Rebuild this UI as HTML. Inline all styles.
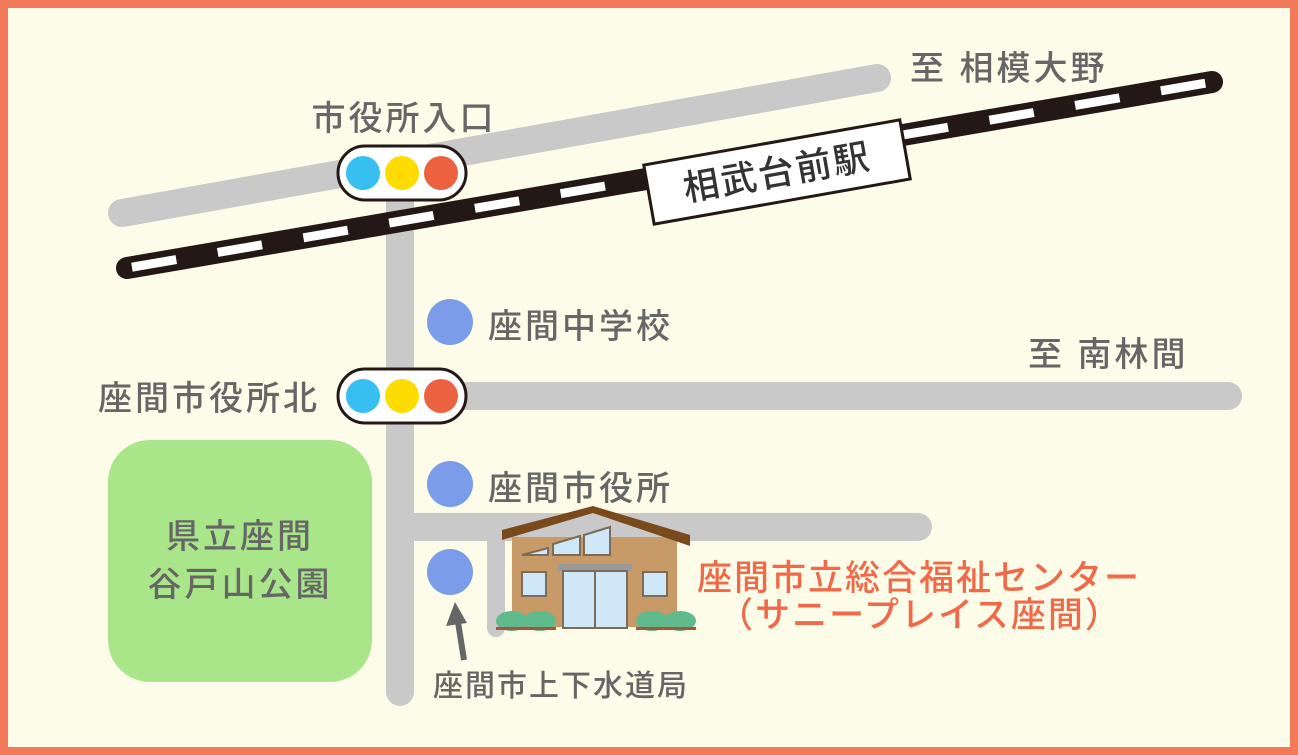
<!DOCTYPE html>
<html><head><meta charset="utf-8"><style>
html,body{margin:0;padding:0;background:#fdfce9;}
svg{display:block}
text{font-family:"Liberation Sans","Noto Sans CJK JP",sans-serif;font-weight:500;}
</style></head><body>
<svg width="1298" height="755" viewBox="0 0 1298 755" xmlns="http://www.w3.org/2000/svg">
<rect x="0" y="0" width="1298" height="755" fill="#f27a58"/>
<rect x="8" y="8" width="1282" height="739" fill="#fdfce9"/>
<g stroke="#c9c9c9" stroke-linecap="round" fill="none">
<line x1="122" y1="213" x2="877" y2="78" stroke-width="28"/>
<line x1="400" y1="172" x2="400" y2="692" stroke-width="28"/>
<line x1="400" y1="396" x2="1228" y2="396" stroke-width="28"/>
<line x1="400" y1="527" x2="918" y2="527" stroke-width="28"/>
<line x1="496" y1="527" x2="496" y2="628" stroke-width="18"/>
</g>
<line x1="127" y1="268" x2="1212" y2="82" stroke="#231815" stroke-width="22" stroke-linecap="round"/>
<line x1="127" y1="268" x2="1212" y2="82" stroke="#fff" stroke-width="9" stroke-dasharray="45 42" stroke-dashoffset="-5"/>
<g transform="translate(777,172) rotate(-10)">
<rect x="-130" y="-30" width="260" height="60" fill="#fff" stroke="#231815" stroke-width="3"/>
<text x="0" y="13" text-anchor="middle" font-size="36" fill="#333" letter-spacing="2">相武台前駅</text>
</g>
<g>
<rect x="338" y="146" width="128" height="54" rx="27" fill="#fff" stroke="#231815" stroke-width="3"/>
<circle cx="363" cy="173" r="17" fill="#36bff0"/><circle cx="402" cy="173" r="17" fill="#ffdc00"/><circle cx="441" cy="173" r="17" fill="#ec6240"/>
<rect x="338" y="369" width="128" height="54" rx="27" fill="#fff" stroke="#231815" stroke-width="3"/>
<circle cx="363" cy="396" r="17" fill="#36bff0"/><circle cx="402" cy="396" r="17" fill="#ffdc00"/><circle cx="441" cy="396" r="17" fill="#ec6240"/>
</g>
<circle cx="450" cy="322" r="23" fill="#7b9ce8"/>
<circle cx="450" cy="484" r="23" fill="#7b9ce8"/>
<circle cx="450" cy="572" r="23" fill="#7b9ce8"/>
<line x1="464" y1="660" x2="458" y2="622" stroke="#666" stroke-width="6"/>
<polygon points="455,602 446,626 467,623" fill="#666"/>
<rect x="108" y="440" width="264" height="242" rx="42" fill="#a9e68a"/>
<g fill="#666" font-size="34" letter-spacing="3">
<text x="404" y="130" text-anchor="middle">市役所入口</text>
<text x="910" y="80">至  相模大野</text>
<text x="488" y="338">座間中学校</text>
<text x="1028" y="366">至  南林間</text>
<text x="98" y="410">座間市役所北</text>
<text x="488" y="500">座間市役所</text>
<text x="240" y="548" text-anchor="middle">県立座間</text>
<text x="240" y="596" text-anchor="middle">谷戸山公園</text>
<text x="433" y="696" font-size="30" letter-spacing="2">座間市上下水道局</text>
</g>
<g fill="#f06a4a" font-size="35" letter-spacing="2">
<text x="697" y="590">座間市立総合福祉センター</text>
<text x="920" y="627" text-anchor="middle">（サニープレイス座間）</text>
</g>
<!-- building -->
<g>
<rect x="512" y="537" width="165" height="90" fill="#c79a68"/>
<polygon points="502,540 593,513 690,546 690,535 593,506 502,530" fill="#7a4a1c"/>
<polygon points="522,555 548,548 548,555" fill="#cfe8f8" stroke="#7a6b5a" stroke-width="2"/>
<polygon points="553,544 580,536 580,555 553,555" fill="#cfe8f8" stroke="#7a6b5a" stroke-width="2"/>
<polygon points="584,535 610,527 610,555 584,555" fill="#cfe8f8" stroke="#7a6b5a" stroke-width="2"/>
<rect x="558" y="564" width="74" height="7" fill="#9a9a9a"/>
<rect x="563" y="571" width="64" height="57" fill="#cfe8f8" stroke="#7a6b5a" stroke-width="2"/>
<line x1="595" y1="571" x2="595" y2="628" stroke="#7a6b5a" stroke-width="2"/>
<rect x="522" y="572" width="24" height="24" fill="#cfe8f8" stroke="#7a6b5a" stroke-width="2"/>
<rect x="643" y="572" width="24" height="24" fill="#cfe8f8" stroke="#7a6b5a" stroke-width="2"/>
<ellipse cx="512" cy="621" rx="16" ry="10" fill="#5fba8c"/>
<ellipse cx="540" cy="621" rx="16" ry="10" fill="#5fba8c"/>
<ellipse cx="652" cy="621" rx="16" ry="10" fill="#5fba8c"/>
<ellipse cx="680" cy="621" rx="16" ry="10" fill="#5fba8c"/>
<rect x="496" y="627" width="60" height="3" fill="#a9543a"/>
<rect x="636" y="627" width="60" height="3" fill="#a9543a"/>
</g>
</svg>
</body></html>
